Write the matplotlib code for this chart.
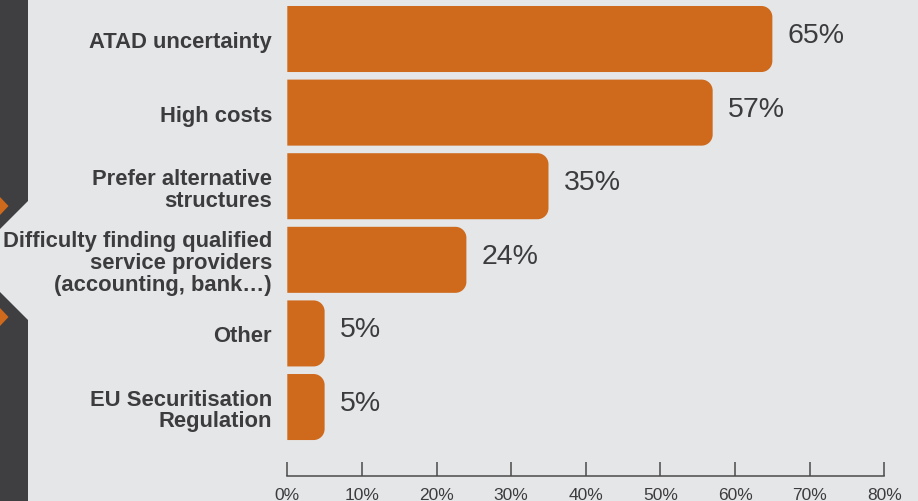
import matplotlib.pyplot as plt
from matplotlib.path import Path
from matplotlib.patches import PathPatch, Polygon

plt.rcParams['font.family'] = ['Liberation Sans', 'DejaVu Sans']

# survey answers, top to bottom
reasons = ['ATAD uncertainty', 'High costs', 'Prefer alternative\nstructures',
           'Difficulty finding qualified\nservice providers\n(accounting, bank\u2026)',
           'Other', 'EU Securitisation\nRegulation']
shares = [65, 57, 35, 24, 5, 5]
xticks = [0, 10, 20, 30, 40, 50, 60, 70, 80]

bg = '#e5e6e8'
orange = '#cf6a1c'
dark = '#3f3f41'
txt = '#3c3c3e'

W, H = 918, 502
fig = plt.figure(figsize=(W / 100, H / 100), dpi=100, facecolor=bg)
ax = fig.add_axes([287.3 / W, 1 - 477 / H, 597 / W, 477 / H])
ax.set_facecolor(bg)
ax.set_xlim(0, 80)
ax.set_ylim(5.937, -0.5435)

# pixel -> data scale for the rounded corners
px_x = 597 / 80
px_y = 73.6
rad = 11
rx, ry = rad / px_x, rad / px_y
k = 0.5523
bh = 0.897

for i, v in enumerate(shares):
    y0, y1 = i - bh / 2, i + bh / 2
    verts = [(0, y0), (v - rx, y0),
             (v - rx + k * rx, y0), (v, y0 + ry - k * ry), (v, y0 + ry),
             (v, y1 - ry),
             (v, y1 - ry + k * ry), (v - rx + k * rx, y1), (v - rx, y1),
             (0, y1), (0, y0)]
    codes = [Path.MOVETO, Path.LINETO,
             Path.CURVE4, Path.CURVE4, Path.CURVE4,
             Path.LINETO,
             Path.CURVE4, Path.CURVE4, Path.CURVE4,
             Path.LINETO, Path.CLOSEPOLY]
    ax.add_patch(PathPatch(Path(verts, codes), facecolor=orange,
                           edgecolor='none'))
    ax.text(v + 15 / px_x, i - 4 / px_y, f'{v}%', fontsize=20.5,
            color=txt, va='center', ha='left')

ax.set_yticks(range(len(reasons)))
ax.set_yticklabels(reasons, fontsize=15.8, fontweight='bold', color=txt,
                   linespacing=1.05)
ax.tick_params(axis='y', length=0, pad=11)

ax.set_xticks(xticks)
ax.set_xticklabels([f'{t}%' for t in xticks], fontsize=12.5, color=txt)
ax.tick_params(axis='x', direction='in', length=10, width=1.1,
               color='#4a4a4a', pad=8)

for s in ['top', 'right', 'left']:
    ax.spines[s].set_visible(False)
ax.spines['bottom'].set_color('#4a4a4a')
ax.spines['bottom'].set_linewidth(1.1)

# dark side strip with notch and orange arrow tips
def fp(pts):
    return [(x / W, 1 - y / H) for x, y in pts]

fig.patches.append(Polygon(fp([(0, 0), (28, 0), (28, 202), (0, 230), (0, 293),
                               (28, 321), (28, H), (0, H)]),
                           closed=True, facecolor=dark, edgecolor='none',
                           transform=fig.transFigure, figure=fig))
for yc in (207, 318):
    fig.patches.append(Polygon(fp([(0, yc - 9), (8.5, yc), (0, yc + 9)]),
                               closed=True, facecolor=orange, edgecolor='none',
                               transform=fig.transFigure, figure=fig))

fig.savefig('out.png', dpi=100, facecolor=bg)
